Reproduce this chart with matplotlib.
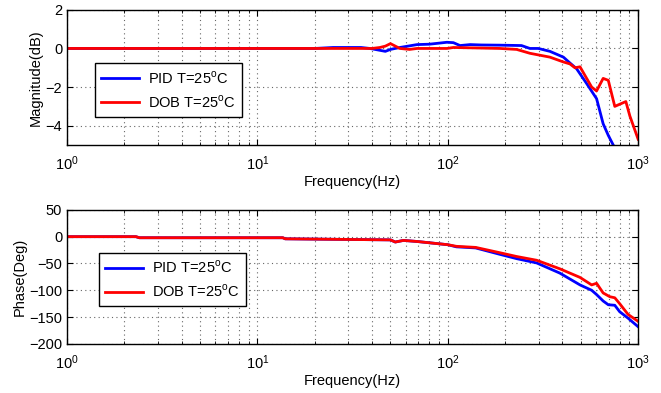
import numpy as np
import matplotlib
matplotlib.use('Agg')
import matplotlib.pyplot as plt

plt.rcParams['font.family'] = ['Liberation Sans', 'DejaVu Sans']
plt.rcParams['mathtext.fontset'] = 'custom'
plt.rcParams['mathtext.rm'] = 'Liberation Sans'

# Magnitude (dB)
f_mag_pid = [1, 20, 25, 35, 39, 47, 50, 56, 69, 80, 91, 99, 107, 116, 131, 150, 188, 244, 270, 299,
             344, 405, 438, 475, 535, 605, 655, 697, 740]
mag_pid = [0, 0, 0.05, 0.05, 0, -0.15, -0.05, 0.05, 0.2, 0.22, 0.28, 0.32, 0.3, 0.15, 0.2, 0.18,
           0.17, 0.15, 0.0, 0.0, -0.15, -0.45, -0.75, -1.05, -1.8, -2.6, -3.9, -4.5, -5.0]

f_mag_dob = [1, 40, 44, 47, 50, 56, 63, 69, 99, 107, 188, 230, 270, 344, 405, 438, 466, 495,
             570, 605, 655, 697, 754, 862, 905, 1000]
mag_dob = [0, 0, 0.05, 0.12, 0.25, 0.0, -0.05, 0.0, 0.0, 0.05, 0.0, -0.05, -0.25, -0.45, -0.7,
           -0.8, -1.0, -0.95, -2.0, -2.2, -1.55, -1.65, -3.0, -2.75, -3.5, -4.7]

# Phase (deg)
f_ph_pid = [1, 2.3, 2.4, 13.6, 14, 50, 53, 58.5, 69, 100, 111, 140, 188, 230, 293, 388, 495,
            570, 605, 655, 697, 754, 800, 885, 1000]
ph_pid = [0, 0, -2, -2, -4, -6, -10, -7, -9, -15, -19, -21, -33, -41, -49, -68, -90,
          -100, -108, -120, -127, -128, -140, -152, -168]

f_ph_dob = [1, 2.3, 2.4, 13.6, 14, 50, 53, 58.5, 69, 100, 111, 140, 188, 230, 293, 388, 495,
            570, 605, 655, 710, 754, 800, 885, 1000]
ph_dob = [0, 0, -2, -2, -4, -6, -10, -7, -9, -15, -18, -20, -30, -37, -44, -60, -76,
          -90, -87, -105, -112, -114, -125, -145, -158]

lbl_pid = 'PID T=25$^{\\mathrm{o}}$C'
lbl_dob = 'DOB T=25$^{\\mathrm{o}}$C'
fs = 10.5

fig = plt.figure(figsize=(6.61, 3.93), dpi=100)
ax1 = fig.add_axes([0.1014, 0.631, 0.864, 0.344])
ax2 = fig.add_axes([0.1014, 0.125, 0.864, 0.341])


def style(ax):
    ax.set_xscale('log')
    ax.set_xlim(1, 1000)
    ax.grid(True, which='major', linestyle=(0, (1, 3)), color='#666666', linewidth=0.8)
    ax.grid(True, which='minor', axis='x', linestyle=(0, (1, 3)), color='#666666', linewidth=0.8)
    ax.tick_params(which='both', direction='in', top=True, right=True, labelsize=fs)
    ax.tick_params(which='major', length=4)
    ax.tick_params(which='minor', length=2)
    ax.tick_params(axis='x', which='major', pad=7)
    for s in ax.spines.values():
        s.set_linewidth(1.0)
    ax.set_xlabel('Frequency(Hz)', fontsize=fs, labelpad=1)


def add_legend(ax, anchor):
    leg = ax.legend(loc='upper left', bbox_to_anchor=anchor, fontsize=fs,
                    fancybox=False, edgecolor='black', framealpha=1, handlelength=2.6,
                    borderpad=0.45, labelspacing=0.5, handletextpad=0.6)
    leg.get_frame().set_linewidth(1.0)


ax1.plot(f_mag_pid, mag_pid, color='#0000ff', lw=2, label=lbl_pid)
ax1.plot(f_mag_dob, mag_dob, color='#ff0000', lw=2, label=lbl_dob)
style(ax1)
ax1.set_ylim(-5, 2)
ax1.set_yticks([-4, -2, 0, 2])
ax1.set_yticklabels(['\u22124', '\u22122', '0', '2'])
ax1.set_ylabel('Magnitude(dB)', fontsize=fs, labelpad=2)
add_legend(ax1, (0.036, 0.66))

ax2.plot(f_ph_pid, ph_pid, color='#0000ff', lw=2, label=lbl_pid)
ax2.plot(f_ph_dob, ph_dob, color='#ff0000', lw=2, label=lbl_dob)
style(ax2)
ax2.set_ylim(-200, 50)
ax2.set_yticks([-200, -150, -100, -50, 0, 50])
ax2.set_yticklabels(['\u2212200', '\u2212150', '\u2212100', '\u221250', '0', '50'])
ax2.set_ylabel('Phase(Deg)', fontsize=fs, labelpad=2)
add_legend(ax2, (0.043, 0.735))

fig.savefig('out.png', dpi=100)
